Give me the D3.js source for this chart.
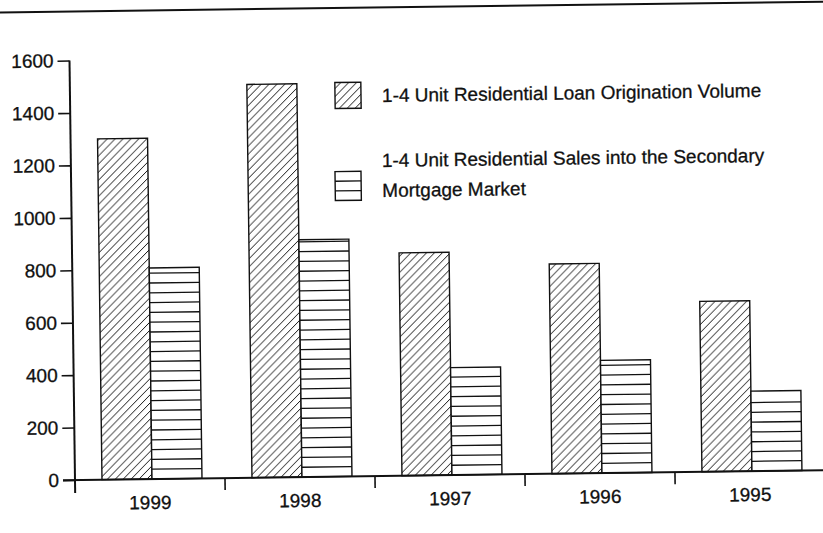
<!DOCTYPE html>
<html>
<head>
<meta charset="utf-8">
<script src="https://cdn.jsdelivr.net/npm/d3@7"></script>
<style>
  html, body { margin: 0; padding: 0; background: #fff; }
  svg { display: block; font-family: "Liberation Sans", Arial, Helvetica, sans-serif; }
  svg text { stroke: #111; stroke-width: 0.3px; }
</style>
</head>
<body>
<div id="chart"></div>
<script>
const years = ['1999', '1998', '1997', '1996', '1995'];
const originationVolume = [1300, 1500, 850, 800, 650];
const secondarySales = [805, 905, 410, 430, 305];
const yTicks = [0, 200, 400, 600, 800, 1000, 1200, 1400, 1600];
const seriesKeys = ['orig', 'sales'];
const legendLines = [
    ['1-4 Unit Residential Loan Origination Volume'],
    ['1-4 Unit Residential Sales into the Secondary', 'Mortgage Market']
];

const width = 823, height = 533;
const origin = { x: 75, y: 480 };
const ink = '#111';
const fontSize = 19;
const lineGap = 9.8;   // spacing of the horizontal hatch

const svg = d3.select('#chart').append('svg')
    .attr('width', width)
    .attr('height', height);

// diagonal hatch
const defs = svg.append('defs');
const hs = 8;
const diag = defs.append('pattern')
    .attr('id', 'diag')
    .attr('patternUnits', 'userSpaceOnUse')
    .attr('width', hs).attr('height', hs)
    .attr('y', origin.y);
diag.append('rect').attr('width', hs).attr('height', hs).attr('fill', '#fff');
diag.append('path')
    .attr('d', `M-1,1 L1,-1 M0,${hs} L${hs},0 M${hs - 1},${hs + 1} L${hs + 1},${hs - 1}`)
    .attr('stroke', ink).attr('stroke-width', 1);

const fills = { orig: 'url(#diag)', sales: '#fff' };

// the scanned page is tilted a little
const g = svg.append('g')
    .attr('transform', `rotate(-0.75, ${origin.x}, ${origin.y})`);

// rule across the top of the page
g.append('line')
    .attr('x1', -10).attr('x2', width + 10)
    .attr('y1', 11.5).attr('y2', 11.5)
    .attr('stroke', ink).attr('stroke-width', 2);

const x = d3.scaleBand()
    .domain(years)
    .range([origin.x, origin.x + 150 * years.length]);

const xInner = d3.scaleBand()
    .domain(seriesKeys)
    .range([2, x.bandwidth() + 2])
    .paddingOuter(0.5);

const y = d3.scaleLinear()
    .domain([0, 1600])
    .range([origin.y, 60.5]);

const rows = years.map((yr, i) => ({ year: yr, orig: originationVolume[i], sales: secondarySales[i] }));

// bars
const groups = g.selectAll('g.year')
    .data(rows)
    .join('g')
    .attr('class', 'year')
    .attr('transform', d => `translate(${x(d.year)},0)`);

const bars = groups.selectAll('g.bar')
    .data(d => seriesKeys.map(k => ({ key: k, value: d[k] })))
    .join('g')
    .attr('class', 'bar');

bars.append('rect')
    .attr('x', d => xInner(d.key))
    .attr('y', d => y(d.value))
    .attr('width', xInner.bandwidth())
    .attr('height', d => y(0) - y(d.value))
    .attr('fill', d => fills[d.key]);

// horizontal hatch lines, counted up from the baseline
bars.filter(d => d.key === 'sales')
    .selectAll('line')
    .data(d => d3.range(y(0) - lineGap, y(d.value) + 2, -lineGap).map(v => ({ key: d.key, yy: v })))
    .join('line')
    .attr('x1', d => xInner(d.key))
    .attr('x2', d => xInner(d.key) + xInner.bandwidth())
    .attr('y1', d => d.yy).attr('y2', d => d.yy)
    .attr('stroke', ink).attr('stroke-width', 1.3);

bars.append('rect')
    .attr('x', d => xInner(d.key))
    .attr('y', d => y(d.value))
    .attr('width', xInner.bandwidth())
    .attr('height', d => y(0) - y(d.value))
    .attr('fill', 'none')
    .attr('stroke', ink)
    .attr('stroke-width', 1.4);

// y axis
const yAxis = d3.axisLeft(y)
    .tickValues(yTicks)
    .tickSize(12)
    .tickPadding(4)
    .tickFormat(d3.format('d'));

const yg = g.append('g')
    .attr('transform', `translate(${origin.x},0)`)
    .call(yAxis)
    .attr('font-size', fontSize)
    .attr('font-family', '"Liberation Sans", Arial, sans-serif');
yg.select('.domain').remove();
yg.selectAll('.tick line').attr('stroke', ink).attr('stroke-width', 1.6);
yg.selectAll('.tick text')
    .attr('fill', ink)
    .style('font-size', fontSize + 'px');

g.append('line')
    .attr('x1', origin.x).attr('x2', origin.x)
    .attr('y1', y(1600)).attr('y2', origin.y + 13)
    .attr('stroke', ink).attr('stroke-width', 2);

// x axis
g.append('line')
    .attr('x1', origin.x - 12).attr('x2', width + 10)
    .attr('y1', origin.y).attr('y2', origin.y)
    .attr('stroke', ink).attr('stroke-width', 2);

g.selectAll('line.xtick')
    .data(years.slice(1))
    .join('line')
    .attr('class', 'xtick')
    .attr('x1', d => x(d)).attr('x2', d => x(d))
    .attr('y1', origin.y).attr('y2', origin.y + 12)
    .attr('stroke', ink).attr('stroke-width', 1.6);

g.selectAll('text.xlabel')
    .data(years)
    .join('text')
    .attr('class', 'xlabel')
    .attr('x', d => x(d) + x.bandwidth() / 2)
    .attr('y', origin.y + 30)
    .attr('text-anchor', 'middle')
    .attr('font-size', fontSize)
    .attr('fill', ink)
    .text(d => d);

// legend
const legend = g.append('g').attr('class', 'legend');
const legendRows = [
    { key: 'orig', box: { x: 340, y: 86, w: 26, h: 26 }, textX: 387, textY: [106] },
    { key: 'sales', box: { x: 339, y: 175, w: 26, h: 29 }, textX: 386, textY: [171, 201] }
];

legendRows.forEach((r, i) => {
    legend.append('rect')
        .attr('x', r.box.x).attr('y', r.box.y)
        .attr('width', r.box.w).attr('height', r.box.h)
        .attr('fill', fills[r.key])
        .attr('stroke', ink)
        .attr('stroke-width', 1.4);
    if (r.key === 'sales') {
        [1, 2].forEach(k => {
            const yy = r.box.y + k * r.box.h / 3;
            legend.append('line')
                .attr('x1', r.box.x).attr('x2', r.box.x + r.box.w)
                .attr('y1', yy).attr('y2', yy)
                .attr('stroke', ink).attr('stroke-width', 1.3);
        });
    }
    legendLines[i].forEach((line, j) => {
        legend.append('text')
            .attr('x', r.textX)
            .attr('y', r.textY[j])
            .attr('font-size', fontSize)
            .attr('fill', ink)
            .text(line);
    });
});
</script>
</body>
</html>
